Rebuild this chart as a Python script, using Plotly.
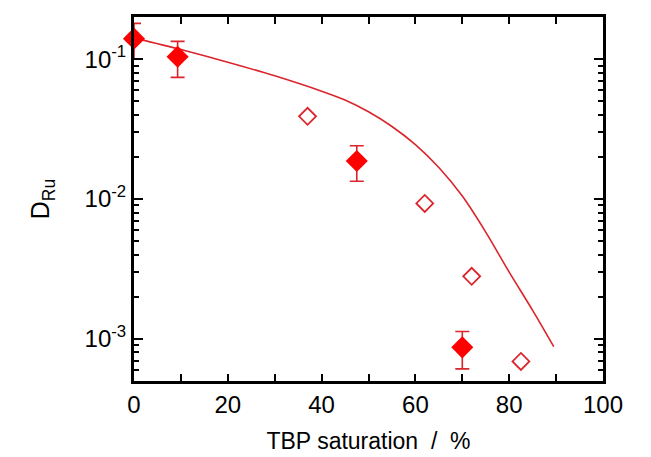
import math
import plotly.graph_objects as go

# --- data ---
filled_x = [0, 9.3, 47.5, 70]
filled_y = [0.14, 0.104, 0.0187, 0.00087]
filled_err = [0.04, 0.030, 0.0053, 0.00026]

open_x = [37, 62, 72, 82.5]
open_y = [0.039, 0.0093, 0.0028, 0.00069]

curve_x = [0, 10, 20, 30, 40, 45, 50, 55, 60, 65, 70, 75, 80, 85, 89.5]
curve_y = [0.142, 0.117, 0.095, 0.076, 0.059, 0.051, 0.042, 0.033, 0.0245,
           0.0168, 0.0105, 0.0058, 0.0030, 0.0016, 0.00088]

x_ticks = [0, 20, 40, 60, 80, 100]
y_ticks = [1e-3, 1e-2, 1e-1]
y_ticktext = ["10<sup>-3</sup>", "10<sup>-2</sup>", "10<sup>-1</sup>"]

RED = "#ff0000"
LINE_RED = "#d9252b"
FONT = "Liberation Sans, Arial, sans-serif"

fig = go.Figure()
fig.add_trace(go.Scatter(x=curve_x, y=curve_y, mode="lines",
                         line=dict(color=LINE_RED, width=1.6, shape="spline",
                                   smoothing=0.8),
                         showlegend=False))
fig.add_trace(go.Scatter(x=open_x, y=open_y, mode="markers",
                         marker=dict(symbol="diamond-open", size=13, color=LINE_RED,
                                     line=dict(width=1.8, color=LINE_RED)),
                         showlegend=False))
fig.add_trace(go.Scatter(x=filled_x, y=filled_y, mode="markers",
                         error_y=dict(type="data", array=filled_err, color=LINE_RED,
                                      thickness=1.6, width=7),
                         marker=dict(symbol="diamond", size=17, color=RED),
                         showlegend=False, cliponaxis=False))

minor_y = [k * 10 ** e for e in range(-4, 0) for k in range(2, 10)
           if 5e-4 < k * 10 ** e < 0.2]

fig.update_layout(
    width=643, height=449,
    margin=dict(l=126, r=48, t=6, b=74),
    paper_bgcolor="white", plot_bgcolor="white",
    font=dict(family=FONT, size=24, color="black"),
    xaxis=dict(range=[0, 100], tickvals=x_ticks, showgrid=False, zeroline=False,
               showline=True, linecolor="black", linewidth=3, mirror="ticks",
               ticks="inside", ticklen=7, tickwidth=1.5, tickcolor="black",
               tickfont=dict(size=24),
               minor=dict(tickvals=[10, 30, 50, 70, 90], ticks="inside", ticklen=7,
                          tickwidth=1.5, tickcolor="black"),
               title=dict(text="TBP saturation  /  %", standoff=17,
                          font=dict(size=23))),
    yaxis=dict(type="log", range=[math.log10(5e-4), math.log10(0.2)],
               tickvals=y_ticks, ticktext=y_ticktext, showgrid=False, zeroline=False,
               showline=True, linecolor="black", linewidth=3, mirror="ticks",
               ticks="inside", ticklen=9, tickwidth=1.5, tickcolor="black",
               tickfont=dict(size=24),
               minor=dict(tickvals=minor_y, ticks="inside", ticklen=5,
                          tickwidth=1.5, tickcolor="black"),
               title=dict(text="D<sub>Ru</sub>", standoff=28, font=dict(size=25))),
)

fig.write_html("out.html")
